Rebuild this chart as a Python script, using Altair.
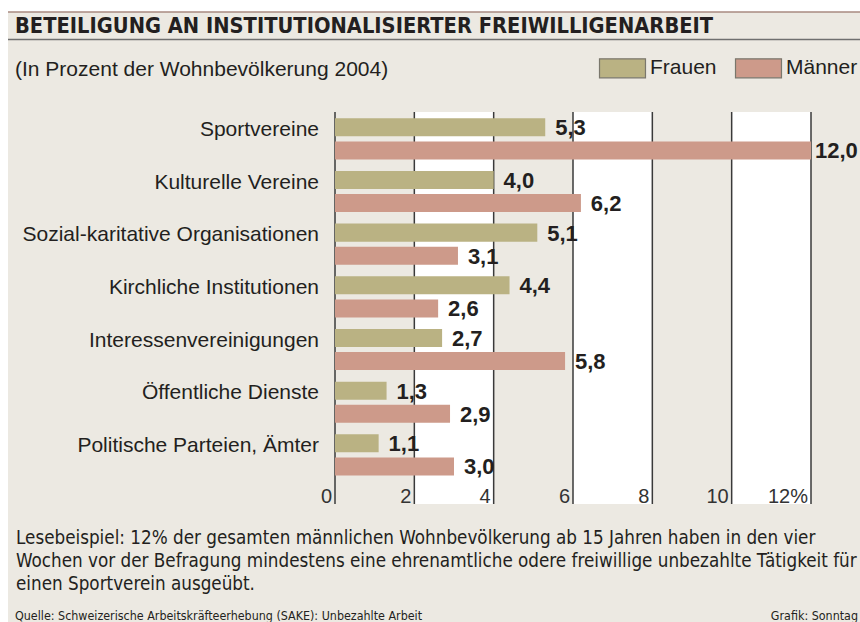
import altair as alt
import pandas as pd

categories = ["Sportvereine", "Kulturelle Vereine", "Sozial-karitative Organisationen",
              "Kirchliche Institutionen", "Interessenvereinigungen", "Öffentliche Dienste",
              "Politische Parteien, Ämter"]
frauen = [5.3, 4.0, 5.1, 4.4, 2.7, 1.3, 1.1]
maenner = [12.0, 6.2, 3.1, 2.6, 5.8, 2.9, 3.0]
series = ["Frauen", "Männer"]
ticks = [0, 2, 4, 6, 8, 10, 12]
tick_labels = ["0", "2", "4", "6", "8", "10", "12%"]
band_start = [2, 6, 10]
band_end = [4, 8, 12]

title = "BETEILIGUNG AN INSTITUTIONALISIERTER FREIWILLIGENARBEIT"
subtitle = "(In Prozent der Wohnbevölkerung 2004)"
note = ["Lesebeispiel: 12% der gesamten männlichen Wohnbevölkerung ab 15 Jahren haben in den vier",
        "Wochen vor der Befragung mindestens eine ehrenamtliche odere freiwillige unbezahlte Tätigkeit für",
        "einen Sportverein ausgeübt."]
source = "Quelle: Schweizerische Arbeitskräfteerhebung (SAKE): Unbezahlte Arbeit"
credit = "Grafik: Sonntag"

BG = "#ECE9E2"
FONT = "Liberation Sans"
NARROW = "DejaVu Sans Condensed"
TXT = "#231f20"

rows = []
for c, f, m in zip(categories, frauen, maenner):
    rows.append({"cat": c, "sex": "Frauen", "v": f, "lab": f"{f:.1f}".replace(".", ",")})
    rows.append({"cat": c, "sex": "Männer", "v": m, "lab": f"{m:.1f}".replace(".", ",")})
bars_df = pd.DataFrame(rows)
ticks_df = pd.DataFrame({"t": ticks, "lab": tick_labels})
bands_df = pd.DataFrame({"s": band_start, "e": band_end})
cat_df = pd.DataFrame({"cat": categories})

xs = alt.Scale(domain=[0, 12], range=[335, 811], nice=False, zero=False)
ys = alt.Scale(domain=categories, range=[112.5, 481.2], paddingInner=0, paddingOuter=0)
yo = alt.Scale(domain=series, range=[0, 52.67], paddingInner=0.22, paddingOuter=0.25)
cs = alt.Scale(domain=series, range=["#BAB283", "#CD9A8A"])

GT, GB = 112, 504

one = pd.DataFrame({"a": [0]})
panel = alt.Chart(one).mark_rect(color=BG).encode(
    x=alt.value(8), x2=alt.value(860), y=alt.value(12), y2=alt.value(622))

bands = alt.Chart(bands_df).mark_rect(color="white").encode(
    x=alt.X("s:Q", scale=xs, axis=None), x2="e:Q",
    y=alt.value(GT), y2=alt.value(GB))

grid = alt.Chart(ticks_df).mark_rule(color="#3a3a3a", strokeWidth=1.5).encode(
    x=alt.X("t:Q", scale=xs, axis=None), y=alt.value(GT), y2=alt.value(GB))

tick_text = alt.Chart(ticks_df).mark_text(
    font=FONT, fontSize=20, fontWeight=300, color="#333", align="right",
    baseline="alphabetic", dx=-3).encode(
    x=alt.X("t:Q", scale=xs, axis=None), y=alt.value(503), text="lab:N")

bars = alt.Chart(bars_df).mark_bar().encode(
    x=alt.X("v:Q", scale=xs, axis=None),
    y=alt.Y("cat:N", scale=ys, axis=None),
    yOffset=alt.YOffset("sex:N", scale=yo),
    color=alt.Color("sex:N", scale=cs, legend=alt.Legend(
        orient="none", legendX=612, legendY=57.5, direction="horizontal", title=None,
        symbolType="M-2.42,-1H2.42V1H-2.42Z", symbolSize=361,
        symbolStrokeColor="#7a776c", symbolStrokeWidth=1.2,
        labelFont=FONT, labelFontSize=21, labelColor=TXT, labelOffset=17,
        columnPadding=16, padding=0)))

vals = alt.Chart(bars_df).transform_calculate(
    lx="min(datum.v + 0.25, 12.1)"
).mark_text(
    font=FONT, fontSize=22, fontWeight="bold", color=TXT, align="left",
    baseline="middle", dy=1).encode(
    x=alt.X("lx:Q", scale=xs, axis=None),
    y=alt.Y("cat:N", scale=ys, axis=None),
    yOffset=alt.YOffset("sex:N", scale=yo),
    text="lab:N")

cat_text = alt.Chart(cat_df).mark_text(
    font=FONT, fontSize=21, color=TXT, align="right", baseline="middle", dy=-9).encode(
    x=alt.value(319), y=alt.Y("cat:N", scale=ys, axis=None), text="cat:N")

def txt(s, x, y, **kw):
    return alt.Chart(pd.DataFrame({"s": [s]})).mark_text(baseline="alphabetic", **kw).encode(
        x=alt.value(x), y=alt.value(y), text="s:N")

top_rule = alt.Chart(one).mark_rule(color="#a88a80", strokeWidth=1.5).encode(
    x=alt.value(8), x2=alt.value(860), y=alt.value(12))
mid_rule = alt.Chart(one).mark_rule(color="#6f6f6f", strokeWidth=1.5).encode(
    x=alt.value(8), x2=alt.value(860), y=alt.value(39.5))

title_t = txt(title, 15, 33, font=NARROW, fontSize=21.7, fontWeight="bold", color=TXT, align="left")
sub_t = txt(subtitle, 15, 76, font=FONT, fontSize=21, color=TXT, align="left")
note_t = alt.Chart(one).mark_text(
    baseline="alphabetic", font=NARROW, fontSize=18.7, color=TXT, align="left", lineHeight=23).encode(
    x=alt.value(16), y=alt.value(544), text=alt.value(note))
src_t = txt(source, 15, 620, font=NARROW, fontSize=12.4, color=TXT, align="left")
cred_t = txt(credit, 858, 620, font=NARROW, fontSize=12.4, color=TXT, align="right")

chart = alt.layer(
    panel, bands, grid, tick_text, bars, vals, cat_text,
    top_rule, mid_rule, title_t, sub_t, note_t, src_t, cred_t
).properties(
    width=860, height=622, padding=0, autosize=alt.AutoSizeParams(type="none"),
    background="white"
).configure_view(stroke=None)

chart.save("out.html", embed_options={"renderer": "svg", "actions": False})
